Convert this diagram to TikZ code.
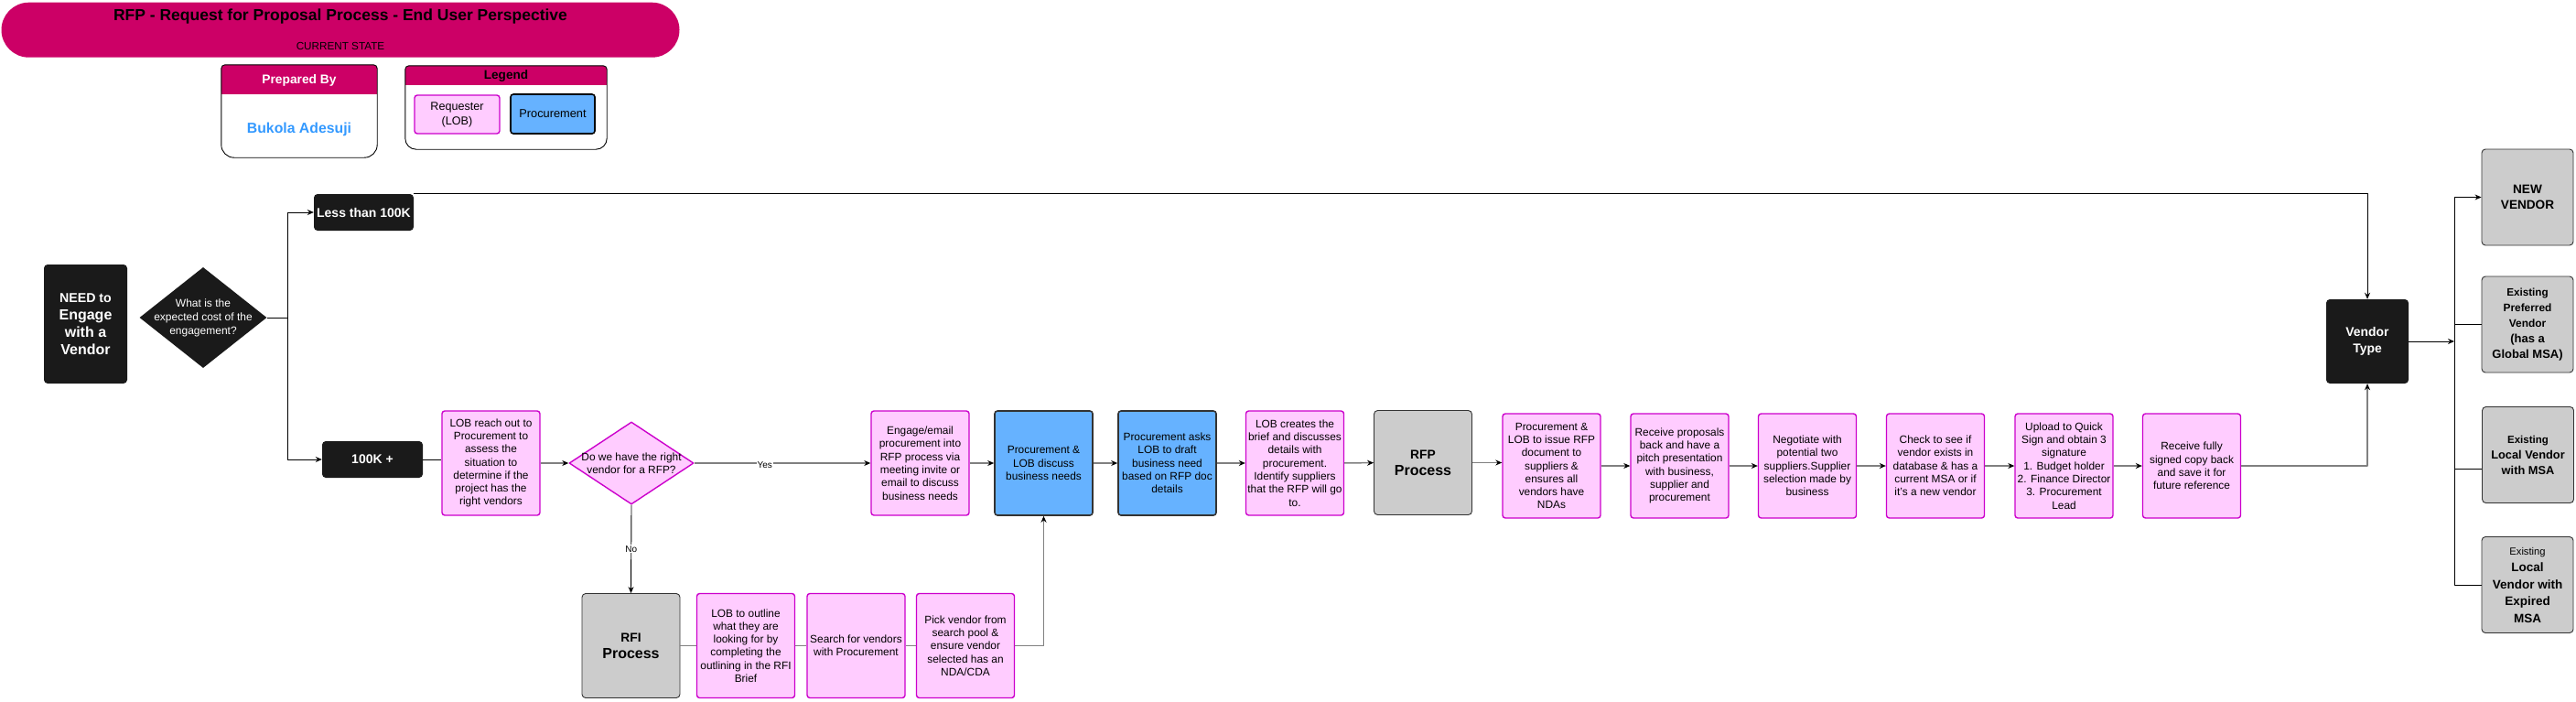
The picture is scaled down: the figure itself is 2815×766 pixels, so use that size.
\documentclass[tikz,border=0pt]{standalone}
\usepackage{fontspec}
\setmainfont{Liberation Sans}
\usetikzlibrary{shapes.geometric,arrows.meta}
\definecolor{crimson}{HTML}{CC0066}
\definecolor{lobfill}{HTML}{FFCCFF}
\definecolor{lobline}{HTML}{CC00CC}
\definecolor{procfill}{HTML}{66B2FF}
\definecolor{procline}{HTML}{333333}
\definecolor{greyfill}{HTML}{CCCCCC}
\definecolor{darkfill}{HTML}{1A1A1A}
\definecolor{flowgrey}{HTML}{808080}
\definecolor{namecol}{HTML}{3399FF}
\begin{document}
\begin{tikzpicture}[x=1pt, y=-1pt, line join=round,
  box/.style={rounded corners=3pt, align=center, inner sep=1pt, minimum width=107pt, minimum height=114pt, font=\fontsize{11.9}{14.3}\selectfont},
  lob/.style={box, draw=lobline, fill=lobfill, line width=1.4pt},
  proc/.style={box, draw=procline, fill=procfill, line width=1.6pt},
  stage/.style={box, draw=procline, fill=greyfill, line width=0.9pt, rounded corners=4pt, font=\bfseries\fontsize{16}{18}\selectfont},
  vendorbox/.style={stage, minimum width=100pt, minimum height=105pt, font=\bfseries\fontsize{13}{17}\selectfont},
  dark/.style={fill=darkfill, text=white, rounded corners=4pt, align=center, inner sep=1pt, font=\bfseries\fontsize{14}{17}\selectfont},
  flow/.style={draw=flowgrey, line width=1.5pt, -{Stealth[length=7pt,width=6pt,color=black]}},
  flowline/.style={draw=flowgrey, line width=1.5pt},
  link/.style={line width=0.9pt, -{Stealth[length=7pt,width=6pt]}},
  tag/.style={fill=white, inner sep=1pt, font=\fontsize{10}{12}\selectfont}]
\fill[white] (0,0) rectangle (2815,766);

\node[fill=crimson, rounded corners=30pt, minimum width=741pt, minimum height=60pt, inner sep=0pt] (title) at (372,32.7) {};
\node[font=\bfseries\fontsize{17.5}{20}\selectfont] (titletext) at (372,17.5) {RFP - Request for Proposal Process - End User Perspective};
\node[font=\fontsize{11.7}{14}\selectfont] (state) at (372,50.7) {CURRENT STATE};

\node[minimum width=170pt, minimum height=101pt, inner sep=0pt] (prep) at (327,121.5) {};
\fill[crimson, rounded corners=4pt] (prep.north west) rectangle ([yshift=-32pt]prep.north east);
\fill[crimson] ([yshift=-24pt]prep.north west) rectangle ([yshift=-32pt]prep.north east);
\draw[line width=0.9pt] ([yshift=-20pt]prep.north west) [rounded corners=4pt] -- (prep.north west) -- (prep.north east) -- ([yshift=-20pt]prep.north east) [rounded corners=14pt] -- (prep.south east) -- (prep.south west) -- cycle;
\node[text=white, font=\bfseries\fontsize{13.8}{16}\selectfont] (prephead) at (327,88) {Prepared By};
\node[text=namecol, font=\bfseries\fontsize{15.8}{18}\selectfont] (prepname) at (327,141) {Bukola Adesuji};

\node[minimum width=220pt, minimum height=91pt, inner sep=0pt] (legend) at (553,117.5) {};
\fill[crimson, rounded corners=4pt] (legend.north west) rectangle ([yshift=-21pt]legend.north east);
\fill[crimson] ([yshift=-14pt]legend.north west) rectangle ([yshift=-21pt]legend.north east);
\draw[line width=0.9pt] ([yshift=-20pt]legend.north west) [rounded corners=4pt] -- (legend.north west) -- (legend.north east) -- ([yshift=-20pt]legend.north east) [rounded corners=12pt] -- (legend.south east) -- (legend.south west) -- cycle;
\node[font=\bfseries\fontsize{13.6}{16}\selectfont] (legendhead) at (553,83) {Legend};
\node[lob, minimum width=93pt, minimum height=42pt, font=\fontsize{12.6}{16}\selectfont] (keylob) at (499.5,125) {Requester\\(LOB)};
\node[proc, draw=black, minimum width=92pt, minimum height=43pt, font=\fontsize{12.8}{16}\selectfont] (keyproc) at (604,124.5) {Procurement};

\node[dark, minimum width=91pt, minimum height=130pt, font=\bfseries\fontsize{16}{19}\selectfont] (need) at (93.5,354) {{\fontsize{14.2}{19}\selectfont NEED to}\\Engage\\with a\\Vendor};
\node[diamond, fill=darkfill, minimum width=139pt, minimum height=110pt, inner sep=0pt, label={[text=white, align=center, font=\fontsize{12}{15}\selectfont]center:What is the\\expected cost of the\\engagement?}] (cost) at (222,347) {};
\coordinate (split) at (314,347);
\node[dark, minimum width=109pt, minimum height=40pt] (less) at (397.5,232) {Less than 100K};
\node[dark, minimum width=110pt, minimum height=40pt] (plus) at (407,502) {100K +};

\node[lob] (reach) at (536.5,506) {LOB reach out to\\Procurement to\\assess the\\situation to\\determine if the\\project has the\\right vendors};
\node[diamond, draw=lobline, fill=lobfill, line width=1.4pt, minimum width=136pt, minimum height=90pt, inner sep=0pt, label={[align=center, font=\fontsize{11.9}{14}\selectfont]center:Do we have the right\\vendor for a RFP?}] (rightvendor) at (690,506) {};
\node[lob] (engage) at (1005.5,506) {Engage/email\\procurement into\\RFP process via\\meeting invite or\\email to discuss\\business needs};
\node[proc] (discuss) at (1140.5,506) {Procurement \&\\LOB discuss\\business needs};
\node[proc] (draft) at (1275.5,506) {Procurement asks\\LOB to draft\\business need\\based on RFP doc\\details};
\node[lob] (brief) at (1415,506) {LOB creates the\\brief and discusses\\details with\\procurement.\\Identify suppliers\\that the RFP will go\\to.};
\node[stage] (rfp) at (1555,505.5) {{\fontsize{13.8}{18}\selectfont RFP}\\Process};
\node[lob] (issue) at (1695.5,509) {Procurement \&\\LOB to issue RFP\\document to\\suppliers \&\\ensures all\\vendors have\\NDAs};
\node[lob] (proposals) at (1835.5,509) {Receive proposals\\back and have a\\pitch presentation\\with business,\\supplier and\\procurement};
\node[lob] (negotiate) at (1975,509) {Negotiate with\\potential two\\suppliers.Supplier\\selection made by\\business};
\node[lob] (check) at (2115,509) {Check to see if\\vendor exists in\\database \& has a\\current MSA or if\\it's a new vendor};
\node[lob] (upload) at (2255.5,509) {Upload to Quick\\Sign and obtain 3\\signature\\1. Budget holder\\2. Finance Director\\3. Procurement\\Lead};
\node[lob] (signed) at (2395,509) {Receive fully\\signed copy back\\and save it for\\future reference};

\node[stage] (rfi) at (689.5,705.5) {{\fontsize{13.8}{18}\selectfont RFI}\\Process};
\node[lob] (outline) at (815,705.5) {LOB to outline\\what they are\\looking for by\\completing the\\outlining in the RFI\\Brief};
\node[lob] (search) at (935.5,705.5) {Search for vendors\\with Procurement};
\node[lob] (pick) at (1055,705.5) {Pick vendor from\\search pool \&\\ensure vendor\\selected has an\\NDA/CDA};

\node[dark, minimum width=90pt, minimum height=92pt, font=\bfseries\fontsize{13.9}{17.7}\selectfont] (vtype) at (2587,373) {Vendor\\Type};
\coordinate (fan) at (2682,373);
\node[vendorbox, font=\bfseries\fontsize{13.6}{17}\selectfont] (newv) at (2762,215.5) {NEW\\VENDOR};
\node[vendorbox] (pref) at (2762,354.5) {{\fontsize{11.7}{17}\selectfont Existing}\\{\fontsize{11.9}{17}\selectfont Preferred}\\{\fontsize{11.9}{17}\selectfont Vendor}\\(has a\\Global MSA)};
\node[vendorbox, font=\bfseries\fontsize{12.8}{17}\selectfont] (local) at (2762.5,497) {{\fontsize{11.5}{17}\selectfont Existing}\\Local Vendor\\with MSA};
\node[vendorbox, font=\bfseries\fontsize{13.5}{18.5}\selectfont] (expired) at (2762,639) {{\mdseries\fontsize{11.2}{18.5}\selectfont Existing}\\Local\\Vendor with\\Expired\\MSA};

\draw[line width=0.9pt] (cost.east) -- (split);
\draw[link] (split) |- (less.west);
\draw[link] (split) |- (plus.west);
\draw[link] (less.north east) -| (vtype.north);
\draw[line width=0.9pt] (plus.east) -- (plus.east -| reach.west);
\draw[flow] (reach.east) -- (rightvendor.west);
\draw[flow] (rightvendor.east) -- node[tag, pos=0.4, yshift=-2pt] (yes) {Yes} (engage.west);
\draw[link] (rightvendor.south) -- node[tag] (no) {No} (rfi.north);
\draw[flowline] (rfi) -- (outline);
\draw[flowline] (outline) -- (search);
\draw[flowline] (search) -- (pick);
\draw[flow] (pick.east) -| (discuss.south);
\foreach \src/\dst in {engage/discuss, discuss/draft, draft/brief, brief/rfp, issue/proposals, proposals/negotiate, negotiate/check, check/upload, upload/signed}
  \draw[flow] (\src) -- (\dst);
\draw[flow] (rfp.east) -- (rfp.east -| issue.west);
\draw[flow] (signed.east) -| (vtype.south);
\draw[link] (vtype.east) -- (fan);
\draw[link] (fan) |- (newv.west);
\draw[line width=0.9pt] (fan) |- (pref.west);
\draw[line width=0.9pt] (fan) |- ([yshift=-15pt]local.west);
\draw[line width=0.9pt] (fan) |- (expired.west);
\end{tikzpicture}
\end{document}
